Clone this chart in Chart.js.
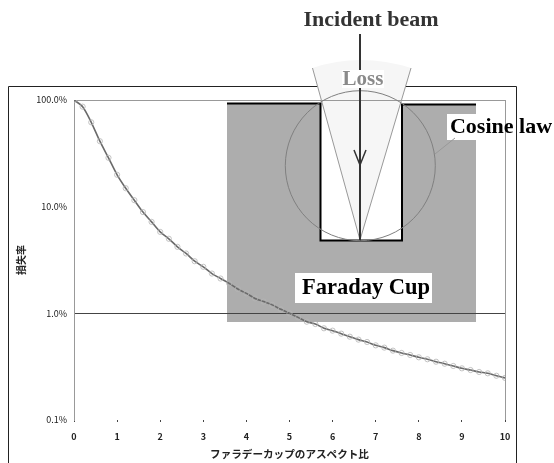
<!DOCTYPE html>
<html><head><meta charset="utf-8">
<script src="https://cdn.jsdelivr.net/npm/chart.js@4"></script>
<style>html,body{margin:0;padding:0;background:#fff;overflow:hidden}canvas{display:block}</style>
</head><body><canvas id="c" width="554" height="463"></canvas>
<script>
const ratios=[0,0.2,0.4,0.6,0.8,1,1.2,1.4,1.6,1.8,2,2.2,2.4,2.6,2.8,3,3.2,3.4,3.6,3.8,4,4.2,4.4,4.6,4.8,5,5.2,5.4,5.6,5.8,6,6.2,6.4,6.6,6.8,7,7.2,7.4,7.6,7.8,8,8.2,8.4,8.6,8.8,9,9.2,9.4,9.6,9.8,10];
const lossRates=[100,86.6,61.8,41.1,28.7,19.9,14.9,11.5,8.9,7.2,5.8,5.0,4.2,3.64,3.08,2.73,2.36,2.12,1.91,1.69,1.54,1.38,1.29,1.20,1.09,1.0,0.917,0.835,0.794,0.724,0.688,0.645,0.604,0.567,0.539,0.501,0.477,0.447,0.425,0.407,0.387,0.371,0.352,0.337,0.321,0.305,0.294,0.282,0.274,0.26,0.248];
const yTicks=[0.1,1,10,100];
const xTitle='ファラデーカップのアスペクト比';
const yTitle='損失率';

const cjk='"Noto Sans CJK JP"';
const serif='"Liberation Serif"';

function line(ctx,pts,color,w){ctx.beginPath();pts.forEach((p,i)=>i?ctx.lineTo(p[0],p[1]):ctx.moveTo(p[0],p[1]));ctx.strokeStyle=color;ctx.lineWidth=w;ctx.stroke();}
function label(ctx,t,x,y,size,color){ctx.font='bold '+size+'px '+serif;ctx.fillStyle=color;ctx.textAlign='center';ctx.textBaseline='middle';ctx.fillText(t,x,y);}

const diagram={
 id:'diagram',
 beforeDraw(ch){
  const c=ch.ctx;c.save();
  c.fillStyle='#fff';c.fillRect(0,0,554,463);
  line(c,[[8.5,463],[8.5,86.5],[516.5,86.5],[516.5,463]],'#222',1);
  c.fillStyle='#adadad';c.fillRect(227,104,249,218);
  c.fillStyle='#fff';c.fillRect(447,114,58,26);
  c.fillStyle='#fff';c.fillRect(320,104,82,137);
  c.beginPath();c.moveTo(360,240);c.lineTo(312.5,68);c.quadraticCurveTo(360,52,411,68);c.closePath();c.fillStyle='#f6f6f6';c.fill();
  c.fillStyle='#fff';c.fillRect(295,273,137,30);
  c.restore();
 },
 afterDraw(ch){
  const c=ch.ctx;c.save();
  line(c,[[360,240],[312.5,68]],'#999',1);
  line(c,[[360,240],[411,68]],'#999',1);
  line(c,[[227,103.5],[320.5,103.5],[320.5,240.5],[402,240.5],[402,104.5],[476,104.5]],'#000',2);
  c.beginPath();c.arc(360.3,165.7,75,0,Math.PI*2);c.strokeStyle='#808080';c.lineWidth=1;c.stroke();
  line(c,[[435,154],[455,138]],'#999',1);
  line(c,[[360,34],[360,240]],'#333',2);
  line(c,[[354,150],[360,165],[366,150]],'#333',1.5);
  c.fillStyle='#fff';c.fillRect(342,70,42,18);
  label(c,'Loss',363,80,21,'#8a8a8a');
  line(c,[[360,88],[360,100]],'#333',2);
  label(c,'Incident beam',371,20,22,'#333');
  label(c,'Cosine law',501,127,22,'#000');
  label(c,'Faraday Cup',366,288,22.5,'#000');
  c.restore();
 }
};

new Chart(document.getElementById('c'),{
 type:'line',
 data:{datasets:[{
  data:ratios.map((x,i)=>({x:x,y:lossRates[i]})),
  borderColor:'#6a6a6a',borderWidth:1.6,tension:0.3,
  pointRadius:2.6,pointBackgroundColor:'rgba(0,0,0,0)',pointBorderColor:'#b5b5b5',pointBorderWidth:0.8
 }]},
 options:{
  responsive:false,animation:false,
  layout:{padding:{top:100,right:49,left:0,bottom:0}},
  plugins:{legend:{display:false},tooltip:{enabled:false}},
  scales:{
   x:{type:'linear',min:0,max:10,
    afterFit(s){s.height=43;},
    ticks:{stepSize:1,maxRotation:0,padding:9,color:'#222',font:{family:cjk,size:9,weight:'bold'}},
    grid:{drawTicks:true,tickLength:2,
      color:ctx=>ctx.tick&&ctx.tick.value===10?'#999':'rgba(0,0,0,0)',
      tickColor:'#444'},
    border:{display:false},
    title:{display:true,text:xTitle,color:'#222',font:{family:cjk,size:10.6,weight:'bold'},padding:{top:0,bottom:3}}
   },
   y:{type:'logarithmic',min:0.1,max:100,
    afterFit(s){s.width=74;},
    afterBuildTicks(s){s.ticks=yTicks.map(v=>({value:v,major:true}));},
    ticks:{autoSkip:false,padding:7,color:'#222',font:{family:cjk,size:9,weight:'normal'},callback:v=>Number(v).toFixed(1)+'%'},
    grid:{drawTicks:false,
      color:ctx=>{const v=ctx.tick&&ctx.tick.value;return v===1?'#444':v===100?'#999':'rgba(0,0,0,0)';}},
    border:{display:true,color:'#999',width:1},
    title:{display:true,text:yTitle,color:'#222',font:{family:cjk,size:10,weight:'bold'},padding:{top:15,bottom:0}}
   }
  }
 },
 plugins:[diagram]
});
</script></body></html>
